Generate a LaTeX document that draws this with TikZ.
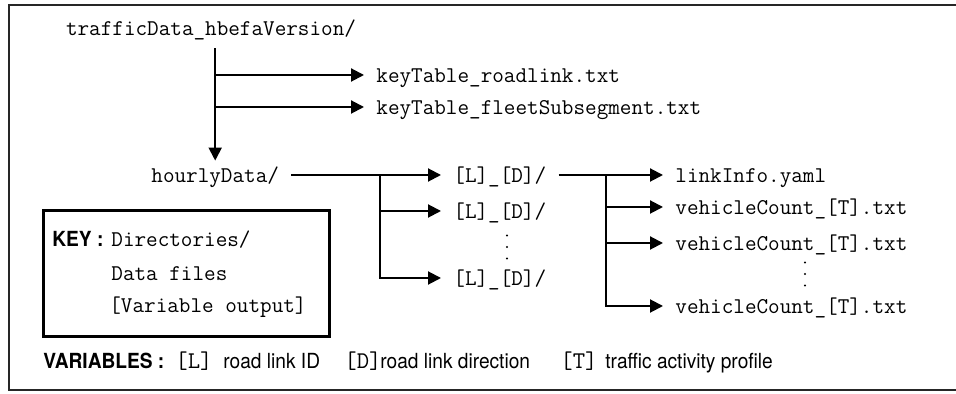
\documentclass[tikz,border=0pt]{standalone}
\usepackage{fontspec}
\newfontfamily\condsf[FakeStretch=0.92]{TeX Gyre Heros}
\usetikzlibrary{arrows.meta}

\tikzset{
  entry/.style={font=\ttfamily\fontsize{11.26}{13}\selectfont, inner xsep=6pt, inner ysep=2pt,
    text height=9pt, text depth=1pt, anchor=west},
  link/.style={line width=1pt, -{Triangle[length=6.5pt,width=6.5pt]}},
  keybox/.style={draw, line width=1.5pt, minimum width=143pt, minimum height=63pt, inner sep=0pt},
  legend/.style={font=\condsf\fontsize{10.4}{12}\selectfont, inner sep=0pt, anchor=base west},
  legendvar/.style={font=\ttfamily\fontsize{12}{13}\selectfont, inner sep=0pt, anchor=base west},
  keyentry/.style={font=\ttfamily\fontsize{11.26}{13}\selectfont, inner sep=0pt, anchor=base west},
}

\begin{document}
\begin{tikzpicture}[x=0.5pt,y=-0.5pt]
\useasboundingbox (0,0) rectangle (956,394);
% outer frame
\draw[line width=1pt, black!85] (9,5) rectangle (964,390);

% directory tree
\node[entry, anchor=center] (root) at (211,28) {trafficData\_hbefaVersion/};
\node[entry] (kt1) at (364,75) {keyTable\_roadlink.txt};
\node[entry] (kt2) at (364,107) {keyTable\_fleetSubsegment.txt};
\node[entry] (hourly) at (139,175) {hourlyData/};

\node[entry] (ld1) at (441,175) {[L]\_[D]/};
\node[entry] (ld2) at (441,211) {[L]\_[D]/};
\node[entry] (ld3) at (441,278) {[L]\_[D]/};

\node[entry] (info) at (663,175) {linkInfo.yaml};
\node[entry] (vc1) at (663,207) {vehicleCount\_[T].txt};
\node[entry] (vc2) at (663,243) {vehicleCount\_[T].txt};
\node[entry] (vc3) at (663,306) {vehicleCount\_[T].txt};

% vertical dots for the rows left out
\foreach \y in {-11.5,0,11.5} {
  \fill (507,247+\y) circle (1.2);
  \fill (805,274+\y) circle (1.2);
}

% connectors
\coordinate (top) at ([yshift=-3pt]root.south -| hourly.north);
\draw[link] (top) -- (hourly.north);
\draw[link] (top) |- (kt1.west);
\draw[link] (top) |- (kt2.west);

\coordinate (fork1) at (380,175);
\draw[link] (hourly.east) -- (ld1.west);
\draw[link] (fork1) |- (ld2.west);
\draw[link] (fork1) |- (ld3.west);

\coordinate (fork2) at (606,175);
\draw[link] (ld1.east) -- (info.west);
\draw[link] (fork2) |- (vc1.west);
\draw[link] (fork2) |- (vc2.west);
\draw[link] (fork2) |- (vc3.west);

% key
\node[keybox] (key) at (186,274) {};
\node[legend, font=\condsf\bfseries\fontsize{10.4}{12}\selectfont] (keylbl) at (52,247) {KEY :};
\node[keyentry] (keydir) at (111,247) {Directories/};
\node[keyentry] (keyfile) at (111,281) {Data files};
\node[keyentry] (keyvar) at (109,313) {[Variable output]};

% variables
\node[legend, font=\condsf\bfseries\fontsize{10.4}{12}\selectfont] (varlbl) at (43,369) {VARIABLES :};
\node[legendvar] (varL) at (175,369) {[L]};
\node[legend] (varLtxt) at (223,369) {road link ID};
\node[legendvar] (varD) at (344,369) {[D]};
\node[legend] (varDtxt) at (380,369) {road link direction};
\node[legendvar] (varT) at (560,369) {[T]};
\node[legend] (varTtxt) at (605,369) {traffic activity profile};
\end{tikzpicture}
\end{document}
